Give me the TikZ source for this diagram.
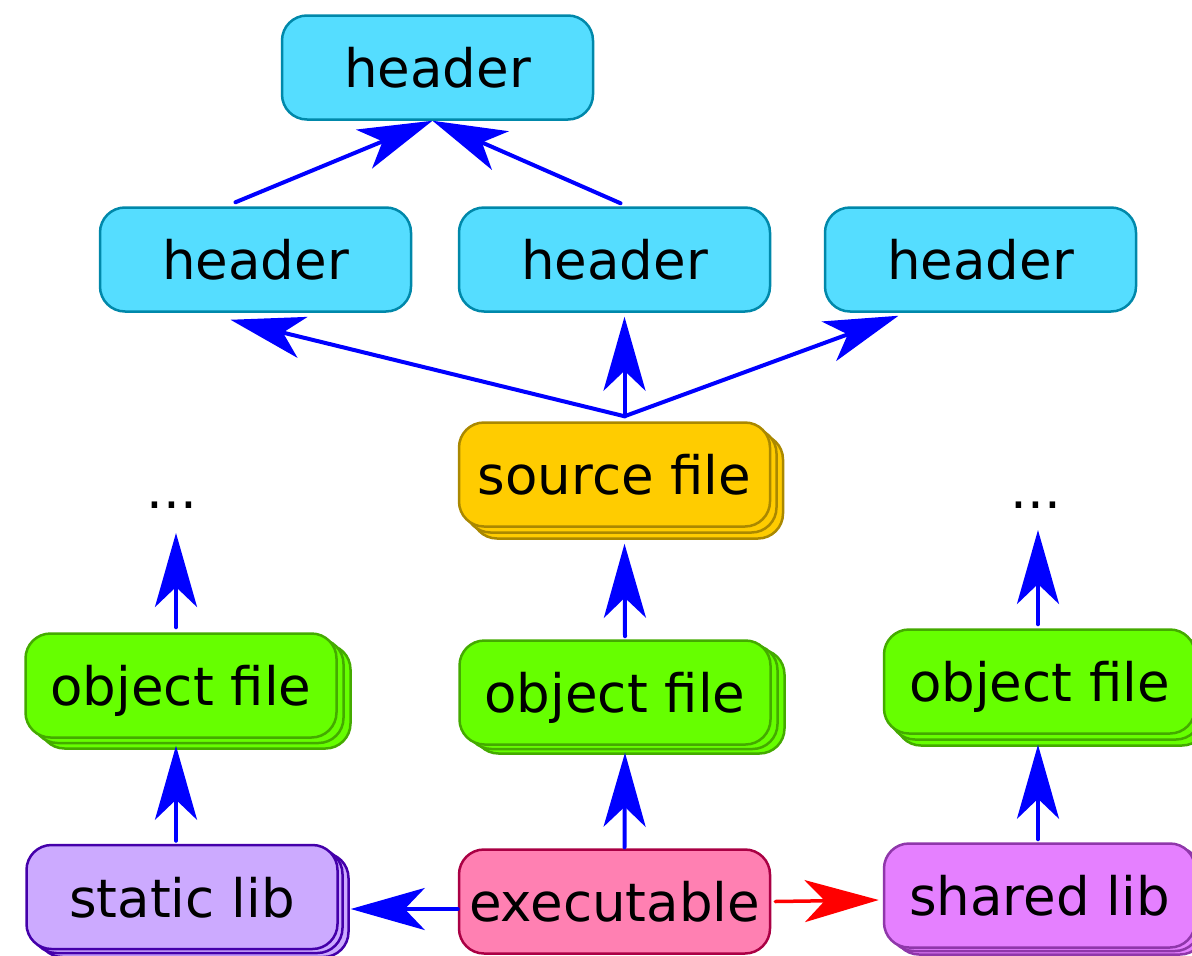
\documentclass[tikz,border=0pt]{standalone}
\usepackage{fontspec}
\setmainfont{DejaVu Sans}
\usetikzlibrary{arrows.meta,shadows}
\definecolor{hfill}{HTML}{55DDFF}\definecolor{hdraw}{HTML}{0088AA}
\definecolor{sfill}{HTML}{FFCC00}\definecolor{sdraw}{HTML}{AA8800}
\definecolor{ofill}{HTML}{66FF00}\definecolor{odraw}{HTML}{44AA00}
\definecolor{lfill}{HTML}{CCAAFF}\definecolor{ldraw}{HTML}{4400AA}
\definecolor{efill}{HTML}{FF80B2}\definecolor{edraw}{HTML}{AA0044}
\definecolor{dfill}{HTML}{E580FF}\definecolor{ddraw}{HTML}{8F37AA}
\tikzset{
  box/.style={rounded corners=25pt, line width=2.5pt, minimum width=311pt,
    minimum height=104pt, inner sep=0pt, text height=40pt, text depth=0pt,
    font=\fontsize{53}{60}\selectfont},
  stack/.style n args={6}{
    copy shadow={shadow xshift=#5pt, shadow yshift=-#6pt, fill=#1, draw=#2, line width=2.5pt},
    copy shadow={shadow xshift=#3pt, shadow yshift=-#4pt, fill=#1, draw=#2, line width=2.5pt}},
  hdr/.style={box, fill=hfill, draw=hdraw},
  srcbox/.style={box, fill=sfill, draw=sdraw},
  objbox/.style={box, fill=ofill, draw=odraw},
  stbox/.style={box, fill=lfill, draw=ldraw},
  exbox/.style={box, fill=efill, draw=edraw},
  shbox/.style={box, fill=dfill, draw=ddraw},
  dots/.style={inner sep=0pt, font=\fontsize{53}{60}\selectfont, anchor=base},
  arr/.style={draw=blue, line width=4pt, line cap=round,
    -{Stealth[length=74pt, width=42pt, inset=20pt]}},
  rarr/.style={draw=red, line width=3.5pt, line cap=round,
    -{Stealth[length=74pt, width=42pt, inset=20pt]}}
}
\begin{document}
\begin{tikzpicture}[x=1pt,y=-1pt]
\useasboundingbox (0,0) rectangle (1192,956);
\fill[white] (0,0) rectangle (1192,956);
% headers
\node[hdr] (ht) at (437.5,67.5) {header};
\node[hdr] (hl) at (255.5,259.5) {header};
\node[hdr] (hm) at (614.5,259.5) {header};
\node[hdr] (hr) at (980.5,259.5) {header};
% source
\node[srcbox, stack={sfill}{sdraw}{6.5}{6}{13}{12}] (src) at (614.5,474.5) {source file};
% dots
\node[dots] (dl) at (172,508) {...};
\node[dots] (dr) at (1036,508) {...};
% object files
\node[objbox, stack={ofill}{odraw}{7}{5.5}{14}{11}] (ol) at (181,685.5) {object file};
\node[objbox, stack={ofill}{odraw}{7}{4.5}{14}{9}] (om) at (615,692.5) {object file};
\node[objbox, stack={ofill}{odraw}{6}{6}{12}{12}] (or) at (1039.5,681.5) {object file};
% bottom row
\node[stbox, stack={lfill}{ldraw}{5}{4}{11}{8}] (sl) at (182,897) {static lib};
\node[exbox] (ex) at (614.5,901.5) {executable};
\node[shbox, stack={dfill}{ddraw}{5}{3.5}{10}{7}] (dl2) at (1039.5,895.5) {shared lib};
% arrows top
\draw[arr] ([xshift=-20pt,yshift=4pt]hl.north) -- ([xshift=-5pt]ht.south);
\draw[arr] ([xshift=6pt,yshift=3pt]hm.north) -- ([xshift=-5pt]ht.south);
\coordinate (sj) at ([xshift=10pt,yshift=5pt]src.north);
\draw[arr] (sj) -- ([xshift=-25pt,yshift=-7pt]hl.south);
\draw[arr] (sj) -- ([xshift=10pt,yshift=-4pt]hm.south);
\draw[arr] (sj) -- ([xshift=-82pt,yshift=-3pt]hr.south);
% vertical arrows
\draw[arr] ([xshift=10pt,yshift=3pt]om.north) -- ([xshift=10pt,yshift=-16pt]src.south);
\draw[arr] ([xshift=10pt,yshift=1pt]ex.north) -- ([xshift=10pt,yshift=-7pt]om.south);
\draw[arr] ([xshift=-5pt,yshift=5pt]ol.north) -- ([xshift=4pt,yshift=-25pt]dl.base);
\draw[arr] ([xshift=-6pt,yshift=3pt]sl.north) -- ([xshift=-5pt,yshift=-7pt]ol.south);
\draw[arr] ([xshift=-1.5pt,yshift=4pt]or.north) -- ([xshift=2pt,yshift=-22pt]dr.base);
\draw[arr] ([xshift=-1.5pt,yshift=3pt]dl2.north) -- ([xshift=-1.5pt,yshift=-10pt]or.south);
% horizontal arrows
\draw[arr] ([yshift=-7.5pt]ex.west) -- ([xshift=12pt,yshift=-12pt]sl.east);
\draw[rarr] ([xshift=4pt]ex.east) -- ([xshift=-4pt,yshift=-4.5pt]dl2.west);
\end{tikzpicture}
\end{document}
